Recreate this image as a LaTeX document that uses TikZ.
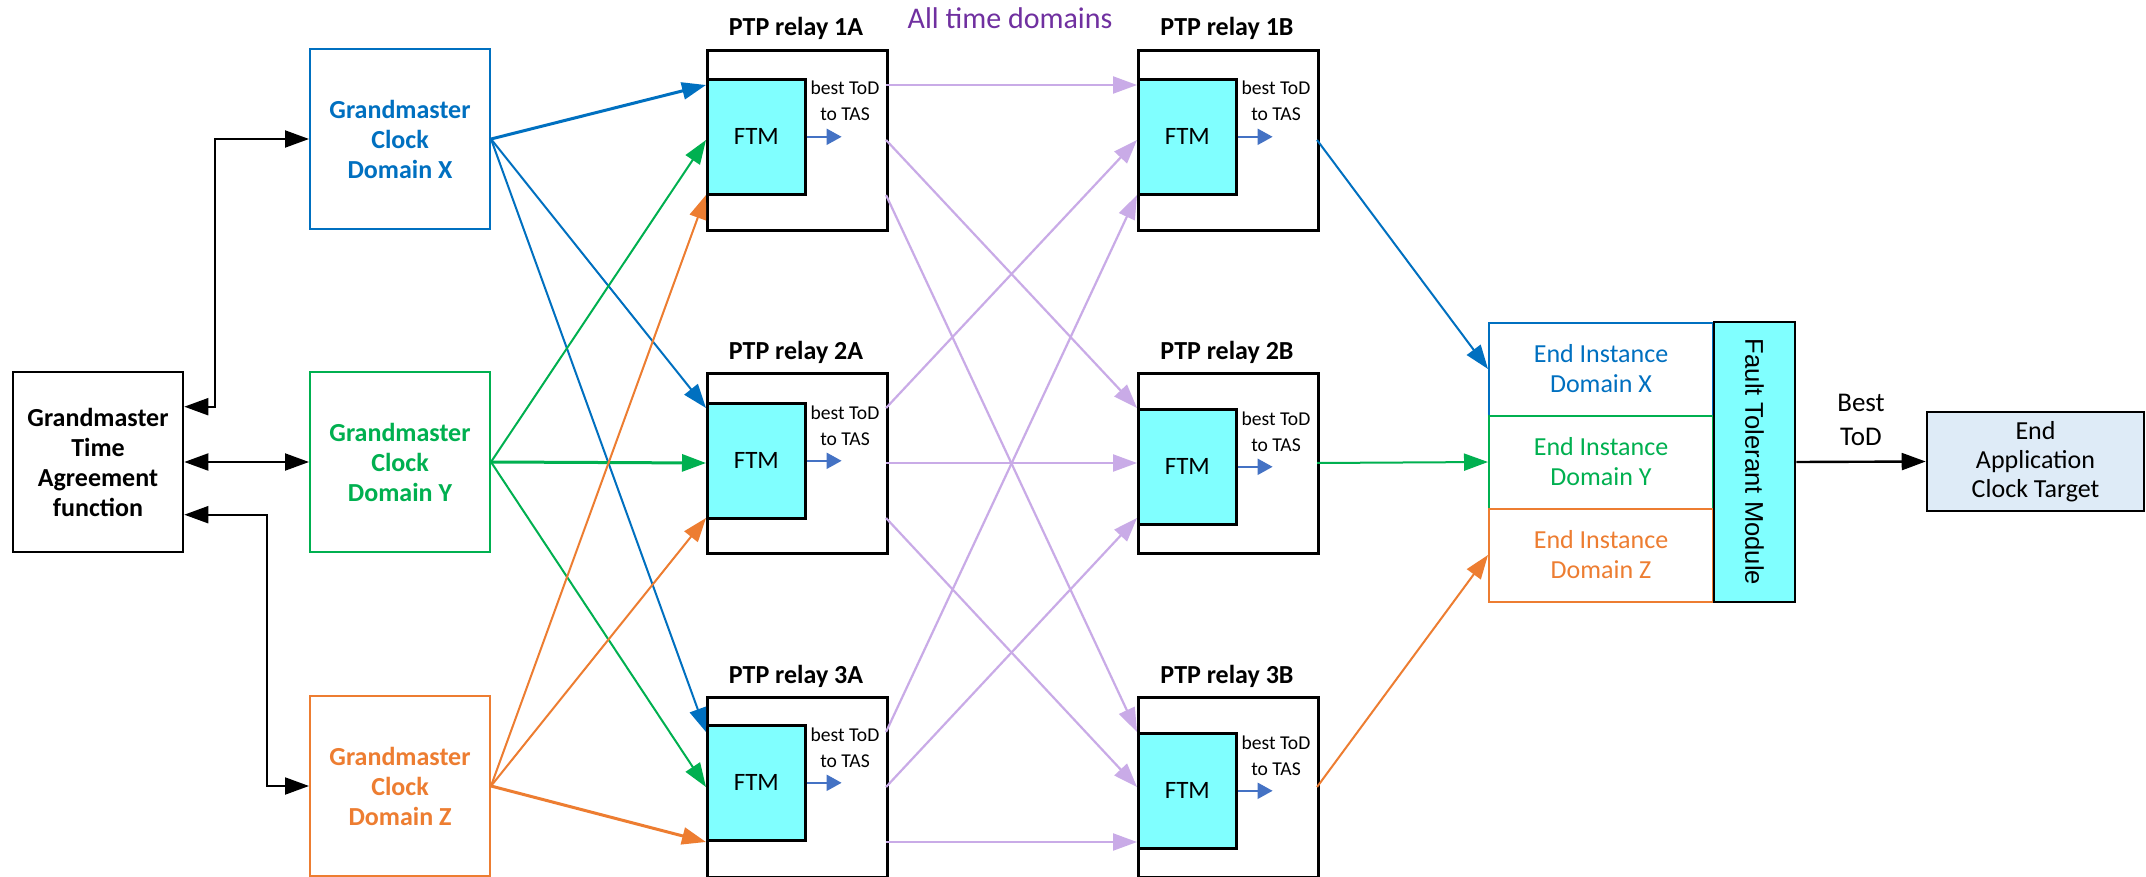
\documentclass[tikz,border=0pt]{standalone}
\usepackage{fontspec}
\setmainfont{Carlito}
\newfontfamily\ftmfont{Liberation Sans}
\usetikzlibrary{arrows.meta,calc}
\definecolor{cX}{HTML}{0070C0}
\definecolor{cY}{HTML}{00B050}
\definecolor{cZ}{HTML}{ED7D31}
\definecolor{cP}{RGB}{201,171,231}
\definecolor{cPT}{HTML}{7030A0}
\definecolor{cFTM}{HTML}{80FFFF}
\definecolor{cS}{HTML}{4472C4}
\definecolor{cApp}{HTML}{DEEBF7}
\tikzset{
  gmbox/.style={draw=#1, text=#1, fill=white, line width=1pt, minimum width=90pt, minimum height=90pt,
    inner sep=0pt, align=center, font=\fontsize{13}{15}\selectfont\bfseries},
  relaybox/.style={draw, fill=white, line width=1.3pt, minimum width=90pt, minimum height=90pt,
    inner sep=0pt, anchor=north west},
  ftmbox/.style={draw, fill=cFTM, line width=1.3pt, minimum width=49pt, minimum height=57.5pt,
    inner sep=0pt, anchor=north west, font=\fontsize{12.5}{14}\selectfont},
  rtitle/.style={inner sep=0pt, anchor=base, font=\fontsize{13}{15}\selectfont\bfseries},
  smalltxt/.style={inner sep=0pt, anchor=base, font=\fontsize{9.8}{11}\selectfont},
  eibox/.style={draw=#1, text=#1, fill=white, line width=1pt, minimum width=112pt, minimum height=46.5pt,
    inner sep=0pt, align=center, font=\fontsize{13}{15}\selectfont},
  bigtip/.style={-{Triangle[length=12pt,width=8.5pt]}},
  dbltip/.style={{Triangle[length=12pt,width=8.5pt]}-{Triangle[length=12pt,width=8.5pt]}},
  sarrow/.style={cS, line width=1pt, -{Triangle[length=7.5pt,width=8pt]}},
  pur/.style={cP, line width=1.1pt, bigtip},
  link/.style={#1, line width=1pt, bigtip},
  thicklink/.style={#1, line width=1.5pt, bigtip},
}
\newcommand\relayunit[5]{%
  \node[relaybox] (#1) at (#2,#3) {};
  \node[rtitle] (#1-t) at (#2+90,#3-13) {#5};
  \node[ftmbox] (#1-f) at (#2,#3+#4) {FTM};
  \node[smalltxt] (#1-b) at (#2+139,#3+#4+17) {best ToD};
  \node[smalltxt] (#1-c) at (#2+139,#3+#4+43) {to TAS};
  \coordinate (#1-e) at ($(#1-f.east)+(35,0)$);
  \draw[sarrow] (#1-f.east) -- (#1-e);
  \coordinate (#1-o1) at (#2+180,#3+36);
  \coordinate (#1-o2) at (#2+180,#3+91);
  \coordinate (#1-o3) at (#2+180,#3+146);
  \coordinate (#1-i1) at (#2,#3+36);
  \coordinate (#1-i2) at (#2,#3+91);
  \coordinate (#1-i3) at (#2,#3+146);
}
\begin{document}
\begin{tikzpicture}[x=0.5pt,y=-0.5pt]
\path[use as bounding box, fill=white] (0,0) rectangle (2146,877);

% left column
\node[draw, fill=white, line width=1.3pt, minimum width=85pt, minimum height=90pt, inner sep=0pt,
  align=center, font=\fontsize{13}{15}\selectfont\bfseries] (gta) at (98,462)
  {Grandmaster\\Time\\Agreement\\function};
\node[gmbox=cX] (gmx) at (400,139) {Grandmaster\\Clock\\Domain X};
\node[gmbox=cY] (gmy) at (400,462) {Grandmaster\\Clock\\Domain Y};
\node[gmbox=cZ] (gmz) at (400,786) {Grandmaster\\Clock\\Domain Z};

\coordinate (gta-a) at ($(gta.north east)+(0,36)$);
\coordinate (gta-c) at ($(gta.north east)+(0,144)$);
\draw[line width=1pt, dbltip] (gta-a) -- ++(31,0) |- (gmx.west);
\draw[line width=1pt, dbltip] (gta.east) -- (gmy.west);
\draw[line width=1pt, dbltip] (gta-c) -- ++(83,0) |- (gmz.west);

% relays
\relayunit{rA1}{706}{49}{29}{PTP relay 1A}
\relayunit{rA2}{706}{372}{30}{PTP relay 2A}
\relayunit{rA3}{706}{696}{28}{PTP relay 3A}
\relayunit{rB1}{1137}{49}{29}{PTP relay 1B}
\relayunit{rB2}{1137}{372}{36}{PTP relay 2B}
\relayunit{rB3}{1137}{696}{36}{PTP relay 3B}

\node[anchor=base, inner sep=0pt, text=cPT, font=\fontsize{15}{17}\selectfont] (alltd) at (1010,29) {All time domains};

% GM -> relay A
\draw[thicklink=cX] (gmx.east) -- (rA1-i1);
\draw[link=cX] (gmx.east) -- (rA2-i1);
\draw[link=cX] (gmx.east) -- (rA3-i1);
\draw[link=cY] (gmy.east) -- (rA1-i2);
\draw[thicklink=cY] (gmy.east) -- (rA2-i2);
\draw[link=cY] (gmy.east) -- (rA3-i2);
\draw[link=cZ] (gmz.east) -- (rA1-i3);
\draw[link=cZ] (gmz.east) -- (rA2-i3);
\draw[thicklink=cZ] (gmz.east) -- (rA3-i3);
% relay A -> relay B
\foreach \i in {1,2,3} {
  \foreach \j in {1,2,3} {
    \draw[pur] (rA\i-o\j) -- (rB\j-i\i);
  }
}

% end instances
\node[eibox=cX] (eix) at (1601,369) {End Instance\\Domain X};
\node[eibox=cY] (eiy) at (1601,462) {End Instance\\Domain Y};
\node[eibox=cZ] (eiz) at (1601,555) {End Instance\\Domain Z};
\node[draw, fill=cFTM, line width=1.3pt, minimum width=40.5pt, minimum height=140pt, inner sep=0pt] (fv) at (1754.5,462) {};
\node[rotate=-90, inner sep=0pt, font=\ftmfont\fontsize{12.8}{14}\selectfont] (fvt) at (fv.center) {Fault Tolerant Module};
\node[draw, fill=cApp, line width=1.3pt, minimum width=108.5pt, minimum height=49.5pt, inner sep=0pt,
  align=center, font=\fontsize{13}{14.5}\selectfont] (app) at (2035.5,461.5) {End\\Application\\Clock Target};
\node[anchor=north, inner sep=0pt, align=center, font=\fontsize{13.5}{17}\selectfont] (bestlbl) at (1861,394) {Best\\ToD};

\draw[link=cX] (rB1-o2) -- (eix.west);
\draw[link=cY] (rB2-o2) -- (eiy.west);
\draw[link=cZ] (rB3-o2) -- (eiz.west);
\draw[line width=1.2pt, bigtip] (fv.east) -- (app.west);
\end{tikzpicture}
\end{document}
